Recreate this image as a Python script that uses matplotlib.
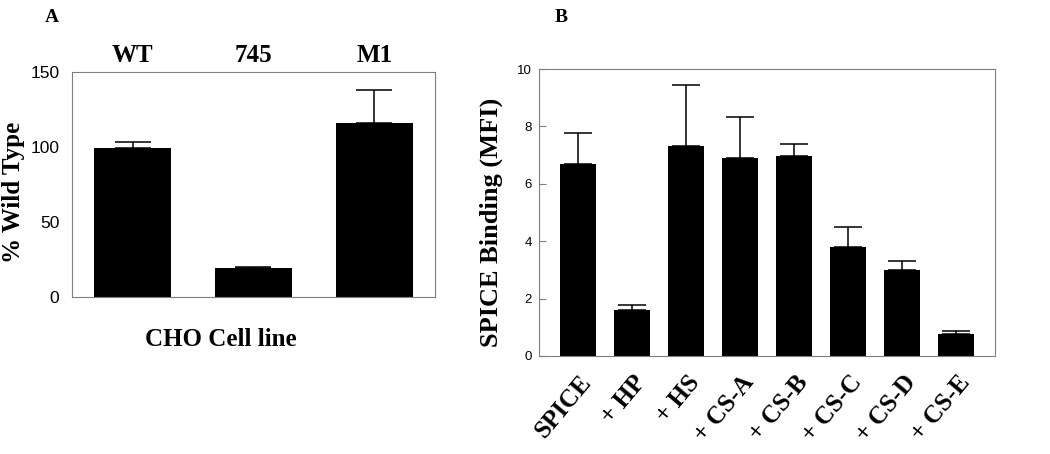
import matplotlib.pyplot as plt
import numpy as np

# Panel A data
lines_a = ['WT', '745', 'M1']
pct_wt = [99.2, 19.1, 116.3]
pct_err = [4.0, 0.9, 22.0]

# Panel B data
groups_b = ['SPICE', '+ HP', '+ HS', '+ CS-A', '+ CS-B', '+ CS-C', '+ CS-D', '+ CS-E']
mfi = [6.70, 1.61, 7.32, 6.89, 6.96, 3.81, 3.01, 0.76]
mfi_err = [1.06, 0.18, 2.12, 1.45, 0.41, 0.70, 0.31, 0.10]

serif = 'Liberation Serif'
sans = 'Liberation Sans'
frame_col = '#7f7f7f'

fig = plt.figure(figsize=(10.5, 4.54), dpi=100)
W, H = 1050, 454

# ---- Panel A ----
axA = fig.add_axes([72 / W, 1 - 297 / H, 363 / W, 225 / H])
xa = np.arange(len(lines_a))
axA.bar(xa, pct_wt, width=0.63, color='black', zorder=2)
axA.errorbar(xa, pct_wt, yerr=[np.zeros(len(pct_err)), pct_err], fmt='none',
             ecolor='black', elinewidth=1.1, capsize=13, capthick=1.1, zorder=1)
axA.set_xlim(-0.5, 2.5)
axA.set_ylim(0, 150)
axA.set_yticks([0, 50, 100, 150])
axA.set_xticks([])
axA.tick_params(axis='y', length=0, pad=9, labelsize=12.5)
for lbl in axA.get_yticklabels():
    lbl.set_fontfamily(sans)
for s in axA.spines.values():
    s.set_color(frame_col)
for i, name in enumerate(lines_a):
    axA.text(xa[i], 153, name, ha='center', va='bottom', fontfamily=serif,
             fontweight='bold', fontsize=18)
axA.set_ylabel('% Wild Type', fontfamily=serif, fontweight='bold', fontsize=18)
axA.yaxis.set_label_coords(-0.13, 0.467)
fig.text(221 / W, 1 - 340 / H, 'CHO Cell line', fontfamily=serif, fontweight='bold',
         fontsize=18, ha='center', va='center')
fig.text(45 / W, 1 - 18 / H, 'A', fontfamily=serif, fontweight='bold', fontsize=14,
         va='center', ha='left')

# ---- Panel B ----
axB = fig.add_axes([539 / W, 1 - 356 / H, 456 / W, 287 / H])
xb = np.arange(len(groups_b))
axB.bar(xb, mfi, width=0.67, color='black', zorder=2)
axB.errorbar(xb, mfi, yerr=[np.zeros(len(mfi_err)), mfi_err], fmt='none',
             ecolor='black', elinewidth=1.1, capsize=10, capthick=1.1, zorder=1)
axB.set_xlim(-0.72, 7.72)
axB.set_ylim(0, 10)
axB.set_yticks([0, 2, 4, 6, 8, 10])
axB.tick_params(axis='y', direction='in', length=5, color=frame_col, pad=5, labelsize=9.5)
axB.tick_params(axis='x', length=0, pad=16)
for lbl in axB.get_yticklabels():
    lbl.set_fontfamily(sans)
axB.set_xticks(xb + 0.18)
axB.set_xticklabels(groups_b, rotation=50, ha='right', va='center', rotation_mode='anchor',
                    fontfamily=serif, fontweight='bold', fontsize=18)
for s in axB.spines.values():
    s.set_color(frame_col)
axB.set_ylabel('SPICE Binding (MFI)', fontfamily=serif, fontweight='bold', fontsize=19)
axB.yaxis.set_label_coords(-0.078, 0.467)
fig.text(555 / W, 1 - 18 / H, 'B', fontfamily=serif, fontweight='bold', fontsize=14,
         va='center', ha='left')

fig.savefig('out.png', dpi=100)
